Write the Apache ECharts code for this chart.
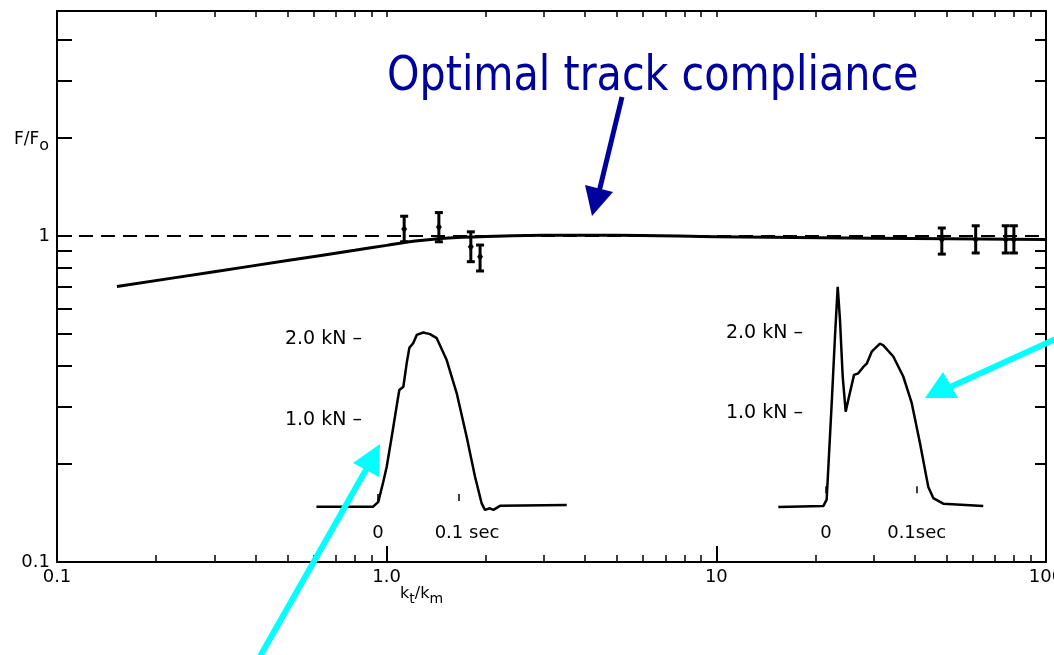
<!DOCTYPE html>
<html><head><meta charset="utf-8">
<script src="https://cdn.jsdelivr.net/npm/echarts@6/dist/echarts.min.js"></script>
<style>html,body{margin:0;padding:0;background:#fff}#c{width:1054px;height:655px}</style>
</head><body><div id="c"></div>
<script>
// ---- data ----
const xMajorTicks = [1, 10];
const xMinorTicks = [0.2,0.3,0.4,0.5,0.6,0.7,0.8,0.9,2,3,4,5,6,7,8,9,20,30,40,50,60,70,80,90];
const yLeftTicks = [0.2,0.3,0.4,0.5,0.6,0.7,0.8,0.9,1,2,3,4];
const yRightTicks = [0.2,0.3,0.4,0.5,0.6,0.7,0.8,0.9,2,3,4];
const xTickValues = [0.1, 1, 10, 100];
const xTickText = ['0.1', '1.0', '10', '100'];
const yTickValues = [0.1, 1];
const yTickText = ['0.1', '1'];
// solid curve (k_t/k_m, F/F0)
const fitCurve = [[0.152,0.70],[0.3,0.777],[0.5,0.841],[0.8,0.904],[1.0,0.936],[1.22,0.965],[1.5,0.985],[2,0.997],[3,1.005],[5,1.005],[10,0.995],[30,0.985],[100,0.975]];
// dashed reference F/F0 = 1
const referenceLine = [[0.1,1],[100,1]];
// measured points: [k_t/k_m, center, low, high]
const measured = [[1.13,1.05,0.96,1.15],[1.44,1.066,0.96,1.18],[1.80,0.927,0.834,1.03],[1.92,0.864,0.781,0.938],[48.3,0.975,0.88,1.058],[61.2,0.975,0.887,1.075],[75.5,0.975,0.887,1.075],[79.9,0.975,0.887,1.075]];
// inset pulses: [time ms, kN]
const pulseA = [[-76,-0.07],[-6,-0.07],[0.4,-0.01],[6.6,0.24],[10.7,0.42],[16.9,0.79],[22.2,1.12],[26.3,1.37],[31.3,1.41],[35.4,1.70],[38.7,1.89],[43.6,1.95],[47.8,2.05],[56,2.08],[64.2,2.06],[72.5,2.01],[84.8,1.74],[97.2,1.33],[109.5,0.79],[119.8,0.30],[128,-0.03],[132,-0.11],[138.3,-0.09],[142.5,-0.11],[150.6,-0.06],[233,-0.05]];
const pulseB = [[-52.6,-0.17],[-3,-0.16],[0.7,-0.08],[6.3,1.13],[9.9,1.96],[12.9,2.58],[15.4,2.17],[18.4,1.46],[21.7,1.02],[24.6,1.17],[30.9,1.48],[35.6,1.50],[41.1,1.58],[44.9,1.62],[50.4,1.77],[59.5,1.87],[63.2,1.85],[74.2,1.71],[85.2,1.46],[94.5,1.13],[103.6,0.63],[112.8,0.08],[118.3,-0.06],[129.3,-0.13],[173.4,-0.16]];
const insetTimeTicks = [0.01, 100];
const insetTimeLabels = [0, 100];
const insetForceTicks = [1, 2];

// ---- chart ----
const FONT = 'DejaVu Sans';
const black = '#000';
const chart = echarts.init(document.getElementById('c'), null, {renderer:'canvas'});

function pick(vals, texts, v){
  let best = 0, bd = Infinity;
  vals.forEach((x,i)=>{const d=Math.abs(Math.log(x)-Math.log(v)); if(d<bd){bd=d;best=i;}});
  return texts[best];
}

const option = {
  animation: false,
  backgroundColor: '#fff',
  grid: [
    {left: 57, right: 8, top: 11, bottom: 93, outerBoundsMode:'none', containLabel:false},
    {left: 313.2, right: 481.6, top: 322.8, bottom: 137.8, outerBoundsMode:'none', containLabel:false},
    {left: 771.6, right: 55.7, top: 269.3, bottom: 137.7, outerBoundsMode:'none', containLabel:false}
  ],
  xAxis: [
    {type:'log', gridIndex:0, position:'bottom', min:0.1, max:100, logBase:10,
     axisLine:{show:true, lineStyle:{color:black, width:2}},
     axisTick:{show:true, inside:true, length:16, customValues:xMajorTicks, lineStyle:{color:black, width:2}},
     axisLabel:{show:true, customValues:xTickValues, formatter:v=>pick(xTickValues,xTickText,v), color:black, fontFamily:FONT, fontSize:18, margin:6},
     splitLine:{show:false}, minorTick:{show:false}},
    {type:'log', gridIndex:0, position:'bottom', min:0.1, max:100, logBase:10,
     axisLine:{show:false},
     axisTick:{show:true, inside:true, length:7, customValues:xMinorTicks, lineStyle:{color:black, width:1.5}},
     axisLabel:{show:false}, splitLine:{show:false}},
    {type:'log', gridIndex:0, position:'top', min:0.1, max:100, logBase:10,
     axisLine:{show:true, lineStyle:{color:black, width:2}},
     axisTick:{show:true, inside:true, length:6, customValues:xMinorTicks.concat(xMajorTicks), lineStyle:{color:black, width:1.5}},
     axisLabel:{show:false}, splitLine:{show:false}},
    {type:'value', gridIndex:1, min:-80, max:240,
     axisLine:{show:false},
     axisTick:{show:true, inside:true, length:7, customValues:insetTimeTicks, lineStyle:{color:black, width:1.5}},
     axisLabel:{show:true, customValues:insetTimeLabels, margin:7, color:black, fontFamily:FONT, fontSize:18,
       formatter:v=> v===0 ? '0' : '{p|0.1 sec}', rich:{p:{fontFamily:FONT, fontSize:18, color:black, padding:[0,0,0,16]}}},
     splitLine:{show:false}},
    {type:'value', gridIndex:2, min:-60, max:190,
     axisLine:{show:false},
     axisTick:{show:true, inside:true, length:7, customValues:insetTimeTicks, lineStyle:{color:black, width:1.5}},
     axisLabel:{show:true, customValues:insetTimeLabels, margin:7, color:black, fontFamily:FONT, fontSize:18,
       formatter:v=> v===0 ? '0' : '0.1sec'},
     splitLine:{show:false}}
  ],
  yAxis: [
    {type:'log', gridIndex:0, position:'left', min:0.1, max:4.9, logBase:10,
     axisLine:{show:true, lineStyle:{color:black, width:2}},
     axisTick:{show:true, inside:true, length:15, customValues:yLeftTicks, lineStyle:{color:black, width:2}},
     axisLabel:{show:true, customValues:yTickValues, formatter:v=>pick(yTickValues,yTickText,v), color:black, fontFamily:FONT, fontSize:18, margin:7},
     splitLine:{show:false}},
    {type:'log', gridIndex:0, position:'right', min:0.1, max:4.9, logBase:10,
     axisLine:{show:true, lineStyle:{color:black, width:2}},
     axisTick:{show:true, inside:true, length:11, customValues:yRightTicks, lineStyle:{color:black, width:2}},
     axisLabel:{show:false}, splitLine:{show:false}},
    {type:'value', gridIndex:1, min:-0.2, max:2.2, offset:-50.8,
     axisLine:{show:false}, axisTick:{show:false},
     axisLabel:{show:true, customValues:insetForceTicks, margin:2, color:black, fontFamily:FONT, fontSize:19,
       formatter:v=>v.toFixed(1)+' kN –'},
     splitLine:{show:false}},
    {type:'value', gridIndex:2, min:-0.3, max:2.8, offset:-33.4,
     axisLine:{show:false}, axisTick:{show:false},
     axisLabel:{show:true, customValues:insetForceTicks, margin:2, color:black, fontFamily:FONT, fontSize:19,
       formatter:v=>v.toFixed(1)+' kN –'},
     splitLine:{show:false}}
  ],
  series: [
    {type:'line', xAxisIndex:0, yAxisIndex:0, data:referenceLine, showSymbol:false,
     lineStyle:{color:black, width:2, type:[14,8]}, z:2},
    {type:'line', xAxisIndex:0, yAxisIndex:0, data:fitCurve, showSymbol:false, smooth:0.3,
     lineStyle:{color:black, width:3}, z:3},
    {type:'custom', xAxisIndex:0, yAxisIndex:0, data:measured, encode:{x:0, y:1}, z:4,
     renderItem:function(params, api){
       const x = api.value(0);
       const c = api.coord([x, api.value(1)]);
       const lo = api.coord([x, api.value(2)]);
       const hi = api.coord([x, api.value(3)]);
       const w = 4;
       const st = {stroke:black, lineWidth:3};
       return {type:'group', children:[
         {type:'line', shape:{x1:lo[0], y1:lo[1], x2:hi[0], y2:hi[1]}, style:st},
         {type:'line', shape:{x1:lo[0]-w, y1:lo[1], x2:lo[0]+w, y2:lo[1]}, style:st},
         {type:'line', shape:{x1:hi[0]-w, y1:hi[1], x2:hi[0]+w, y2:hi[1]}, style:st},
         {type:'polygon', shape:{points:[[c[0],c[1]-4],[c[0]+3,c[1]],[c[0],c[1]+4],[c[0]-3,c[1]]]}, style:{fill:black}}
       ]};
     }},
    {type:'line', xAxisIndex:3, yAxisIndex:2, data:pulseA, showSymbol:false, smooth:false,
     lineStyle:{color:black, width:2.5}},
    {type:'line', xAxisIndex:4, yAxisIndex:3, data:pulseB, showSymbol:false, smooth:false,
     lineStyle:{color:black, width:2.5}}
  ],
  graphic: [
    {type:'text', x:14, y:126, z:10,
     style:{text:'{a|F/F}{s|o}', rich:{a:{fontFamily:FONT, fontSize:17, fill:black}, s:{fontFamily:FONT, fontSize:16, fill:black, padding:[12,0,0,0]}}}},
    {type:'text', x:400, y:582, z:10,
     style:{text:'{a|k}{s|t}{a|/k}{s|m}', rich:{a:{fontFamily:FONT, fontSize:16, fill:black}, s:{fontFamily:FONT, fontSize:14, fill:black, padding:[10,0,0,0]}}}},
    {type:'text', x:387, y:78, scaleX:0.86, originX:0, originY:0, z:20,
     style:{text:'Optimal track compliance', fontFamily:FONT, fontSize:48, fill:'#00009c', verticalAlign:'middle', align:'left'}},
    // navy arrow
    {type:'line', z:20, shape:{x1:622, y1:97, x2:599, y2:192}, style:{stroke:'#00009c', lineWidth:5}},
    {type:'polygon', z:20, shape:{points:[[585,185],[613,192],[592,216]]}, style:{fill:'#00009c'}},
    // cyan arrows
    {type:'line', z:20, shape:{x1:258, y1:660, x2:367, y2:468}, style:{stroke:'#00ffff', lineWidth:6}},
    {type:'polygon', z:20, shape:{points:[[353,463],[379,477],[380,444]]}, style:{fill:'#00ffff'}},
    {type:'line', z:20, shape:{x1:1060, y1:337, x2:948, y2:388}, style:{stroke:'#00ffff', lineWidth:6}},
    {type:'polygon', z:20, shape:{points:[[943,372],[958,398],[925,398]]}, style:{fill:'#00ffff'}}
  ]
};
chart.setOption(option);
</script>
</body></html>
